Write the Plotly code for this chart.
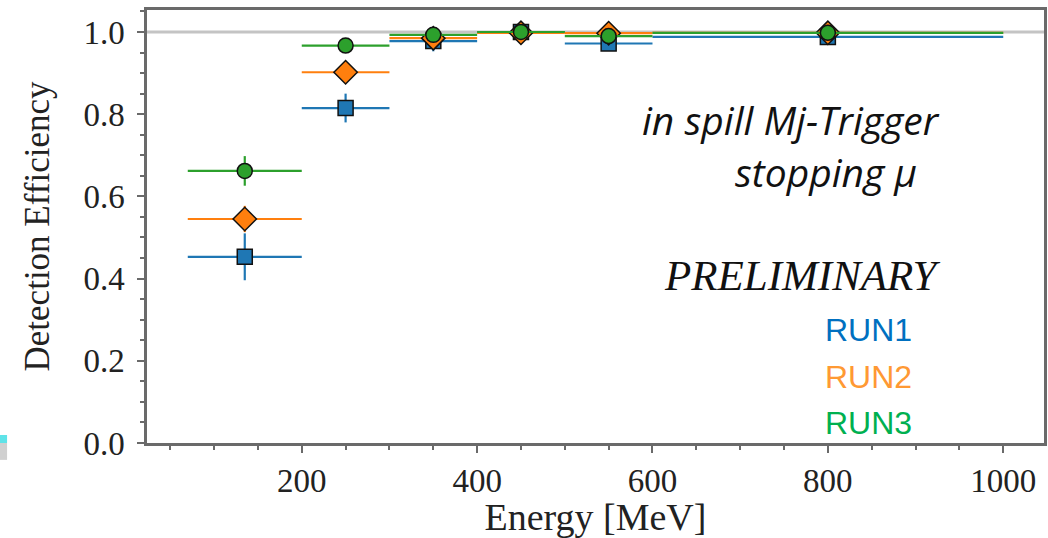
import plotly.graph_objects as go

# ---- data ----
bin_low = [70, 200, 300, 400, 500, 600]
bin_high = [200, 300, 400, 500, 600, 1000]

run1_eff = [0.453, 0.815, 0.978, 1.000, 0.972, 0.988]
run1_err = [0.057, 0.035, 0.025, 0.005, 0.010, 0.005]
run2_eff = [0.545, 0.902, 0.985, 0.998, 0.997, 0.998]
run2_err = [0.032, 0.015, 0.010, 0.003, 0.005, 0.003]
run3_eff = [0.662, 0.967, 0.993, 1.000, 0.990, 0.998]
run3_err = [0.036, 0.010, 0.008, 0.003, 0.005, 0.003]

x_ticks = [200, 400, 600, 800, 1000]
y_ticks = [0.0, 0.2, 0.4, 0.6, 0.8, 1.0]

centers = [(a + b) / 2 for a, b in zip(bin_low, bin_high)]
halfw = [(b - a) / 2 for a, b in zip(bin_low, bin_high)]

series = [
    ("RUN1", run1_eff, run1_err, "#1f77b4", "square", 15),
    ("RUN2", run2_eff, run2_err, "#ff7f0e", "diamond", 18),
    ("RUN3", run3_eff, run3_err, "#2ca02c", "circle", 15),
]

fig = go.Figure()
for name, eff, err, col, sym, sz in series:
    fig.add_trace(go.Scatter(
        x=centers, y=eff, mode="markers", name=name,
        marker=dict(symbol=sym, size=sz, color=col, line=dict(color="#111111", width=1.5)),
        error_x=dict(type="data", array=halfw, visible=True, color=col, thickness=2.2, width=0),
        error_y=dict(type="data", array=err, visible=True, color=col, thickness=2.2, width=0),
        showlegend=False,
    ))

serif = "Liberation Serif"
axis_common = dict(
    showline=True, linecolor="#6a6a6a", linewidth=2.5, mirror=True,
    ticks="outside", tickcolor="#6a6a6a", tickwidth=1.5, ticklen=7,
    showgrid=False, zeroline=False, automargin=False,
    tickfont=dict(family=serif, size=33, color="#222222"),
)

fig.update_xaxes(
    range=[23.5, 1046.5], tickvals=x_ticks,
    minor=dict(dtick=50, tick0=0, ticks="outside", ticklen=4, tickcolor="#6a6a6a", tickwidth=1.5),
    title=dict(text="Energy [MeV]", font=dict(family=serif, size=38, color="#222222"), standoff=2),
    **axis_common,
)
fig.update_yaxes(
    range=[0, 1.0535], tickvals=y_ticks, tickformat=".1f", ticklabelstandoff=6,
    minor=dict(dtick=0.05, tick0=0, ticks="outside", ticklen=4, tickcolor="#6a6a6a", tickwidth=1.5),
    title=dict(text="Detection Efficiency", font=dict(family=serif, size=35, color="#222222"), standoff=24),
    **axis_common,
)

fig.add_shape(type="line", xref="paper", yref="y", x0=0, x1=1, y0=1.0, y1=1.0,
              line=dict(color="#c4c4c4", width=3), layer="below")

# small artifacts at left edge
fig.add_shape(type="rect", xref="paper", yref="paper", x0=-0.164, x1=-0.156, y0=0.0, y1=0.0185,
              fillcolor="#5fe3e8", line=dict(width=0))
fig.add_shape(type="rect", xref="paper", yref="paper", x0=-0.164, x1=-0.156, y0=-0.039, y1=0.0,
              fillcolor="#d0d0d0", line=dict(width=0))

ann = [
    dict(text="<i>in spill Mj-Trigger</i>", x=0.550, y=0.746, font=dict(family="Open Sans", size=39, color="#111111")),
    dict(text="<i>stopping μ</i>", x=0.653, y=0.626, font=dict(family="Open Sans", size=39, color="#111111")),
    dict(text="<i>PRELIMINARY</i>", x=0.574, y=0.387, font=dict(family=serif, size=43, color="#111111")),
    dict(text="RUN1", x=0.754, y=0.261, font=dict(family="Liberation Sans", size=32, color="#0070C0")),
    dict(text="RUN2", x=0.754, y=0.152, font=dict(family="Liberation Sans", size=32, color="#FF9933")),
    dict(text="RUN3", x=0.754, y=0.046, font=dict(family="Liberation Sans", size=32, color="#00B050")),
]
for a in ann:
    fig.add_annotation(xref="paper", yref="paper", xanchor="left", yanchor="middle",
                       showarrow=False, **a)

fig.update_layout(
    width=1048, height=538,
    margin=dict(l=147, r=4, t=10, b=95),
    plot_bgcolor="white", paper_bgcolor="white",
)

fig.write_html("out.html", config={"displayModeBar": False},
               post_script="document.body.style.margin='0';document.body.style.overflow='hidden';")
